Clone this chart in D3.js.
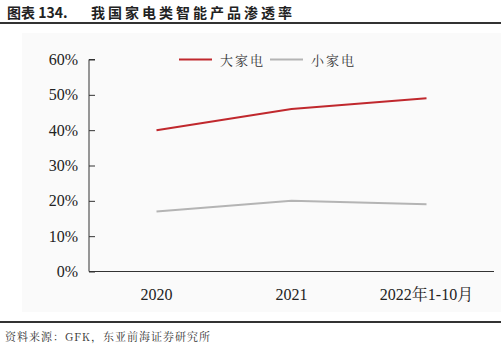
<!DOCTYPE html>
<html lang="zh">
<head>
    <meta charset="UTF-8">
    <title>我国家电类智能产品渗透率</title>
    <script src="https://cdn.jsdelivr.net/npm/d3@7/dist/d3.min.js"></script>
    <style>
        body { margin: 0; background: #fff; }
    </style>
</head>
<body>
    <script>
        let width = 501;
        let height = 348;
        let serif = '"Liberation Serif", "Noto Serif CJK SC", serif';
        let song = '"Noto Serif CJK SC", serif';
        let hei = '"Noto Sans CJK SC", sans-serif';

        // 数据
        let categories = ['2020', '2021', '2022年1-10月'];
        let bigAppliance = [40, 46, 49];
        let smallAppliance = [17, 20, 19];
        let yTicks = [0, 10, 20, 30, 40, 50, 60];
        let seriesNames = ['大家电', '小家电'];
        let seriesColors = ['#c0282d', '#b4b4b4'];

        let svg = d3.select('body')
                    .append('svg')
                    .attr('width', width)
                    .attr('height', height);

        // 标题
        svg.append('text')
            .style('font-family', hei)
            .attr('x', 7)
            .attr('y', 18)
            .attr('font-size', 14)
            .attr('font-weight', 'bold')
            .attr('fill', '#222')
            .text('图表 134.');
        svg.append('text')
            .style('font-family', hei)
            .attr('x', 91)
            .attr('y', 18)
            .attr('font-size', 14)
            .attr('font-weight', 'bold')
            .attr('letter-spacing', 3)
            .attr('fill', '#222')
            .text('我国家电类智能产品渗透率');

        svg.append('rect')
            .attr('x', 0).attr('y', 22)
            .attr('width', width).attr('height', 2)
            .attr('fill', '#333');

        // 图表背景
        svg.append('rect')
            .attr('x', 22).attr('y', 33)
            .attr('width', width - 22).attr('height', 279)
            .attr('fill', '#fafafa');

        // 比例尺
        let x = d3.scaleBand()
                  .domain(categories)
                  .range([89, 494]);
        let y = d3.scaleLinear()
                  .domain([0, 60])
                  .range([271.5, 59.5]);
        let cx = function(d) { return x(d) + x.bandwidth() / 2; };

        // y轴
        let yAxis = svg.append('g')
            .attr('transform', 'translate(89,0)')
            .call(d3.axisRight(y).tickValues(yTicks).tickSize(6).tickFormat(''));
        yAxis.select('.domain').attr('d', 'M6,59.5H0V271.5').attr('stroke', '#333');
        yAxis.selectAll('.tick line').attr('stroke', '#333');

        svg.selectAll('.ylab')
            .data(yTicks)
            .enter()
            .append('text')
            .attr('class', 'ylab')
            .style('font-family', serif)
            .attr('x', 78)
            .attr('y', function(d) { return y(d) + 5.5; })
            .attr('text-anchor', 'end')
            .attr('font-size', 16)
            .attr('fill', '#222')
            .text(function(d) { return d + '%'; });

        // x轴
        svg.append('line')
            .attr('x1', 89).attr('x2', 494)
            .attr('y1', y(0)).attr('y2', y(0))
            .attr('stroke', '#333')
            .attr('stroke-width', 1.2);

        svg.selectAll('.xlab')
            .data(categories)
            .enter()
            .append('text')
            .attr('class', 'xlab')
            .style('font-family', serif)
            .attr('x', cx)
            .attr('y', 300)
            .attr('text-anchor', 'middle')
            .attr('font-size', 16)
            .attr('fill', '#222')
            .text(function(d) { return d; });

        // 折线
        let line = d3.line()
                     .x(function(d, i) { return cx(categories[i]); })
                     .y(function(d) { return y(d); });

        [bigAppliance, smallAppliance].forEach(function(s, i) {
            svg.append('path')
                .datum(s)
                .attr('d', line)
                .attr('fill', 'none')
                .attr('stroke', seriesColors[i])
                .attr('stroke-width', 2);
        });

        // 图例
        let legend = svg.append('g').attr('transform', 'translate(179,59.5)');
        seriesNames.forEach(function(name, i) {
            let g = legend.append('g').attr('transform', 'translate(' + (i * 91) + ',0)');
            g.append('line')
                .attr('x1', 0).attr('x2', 33)
                .attr('stroke', seriesColors[i])
                .attr('stroke-width', 2);
            g.append('text')
                .style('font-family', song)
                .attr('x', 41)
                .attr('y', 5)
                .attr('font-size', 13)
                .attr('letter-spacing', 2)
                .attr('fill', '#333')
                .text(name);
        });

        // 底线与来源
        svg.append('rect')
            .attr('x', 0).attr('y', 321)
            .attr('width', width).attr('height', 2)
            .attr('fill', '#333');

        svg.append('text')
            .style('font-family', song)
            .attr('x', 5)
            .attr('y', 341)
            .attr('font-size', 11)
            .attr('letter-spacing', 1)
            .attr('fill', '#333')
            .text('资料来源：GFK，东亚前海证券研究所');
    </script>
</body>
</html>
